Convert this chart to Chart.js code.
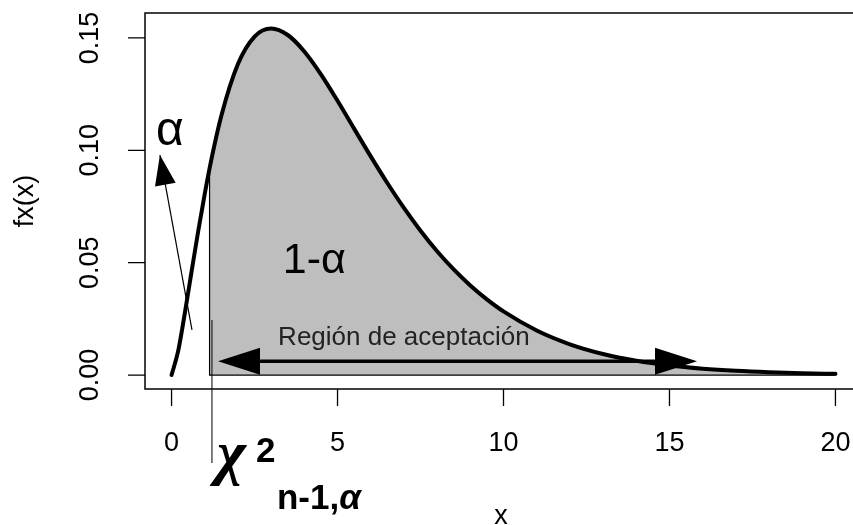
<!DOCTYPE html>
<html><head><meta charset="utf-8">
<script src="https://cdn.jsdelivr.net/npm/chart.js@4.4.1/dist/chart.umd.min.js"></script>
<style>html,body{margin:0;padding:0;overflow:hidden;background:#fff}</style>
</head><body>
<canvas id="c" width="880" height="525"></canvas>
<script>
// Density curve
const curveX = [0,0.2,0.4,0.6,0.8,1.0,1.2,1.5,2,2.5,3,3.5,4,4.5,5,5.5,6,6.5,7,7.5,8,8.5,9,9.5,10,11,12,13,14,15,16,17,18,19,20];
const curveY = [0,0.01076,0.02754,0.04579,0.06378,0.08066,0.09594,0.11540,0.13837,0.15060,0.15418,0.15131,0.14398,0.13380,0.12204,0.10965,0.09730,0.08545,0.07437,0.06424,0.05511,0.04701,0.03989,0.03369,0.02833,0.01983,0.01370,0.00937,0.00635,0.00427,0.00286,0.00190,0.00125,0.00082,0.00054];
// Critical value (left edge of the shaded region)
const criticalX = 1.145;
const criticalY = 0.0919;
// Axis ticks
const xTicks = [0,5,10,15,20];
const xTickLabels = ['0','5','10','15','20'];
const yTicks = [0,0.05,0.10,0.15];
const yTickLabels = ['0.00','0.05','0.10','0.15'];
const xTitle = 'x';
const yTitle = 'fx(x)';
// Annotations (data units)
const alphaText = 'α';
const alphaArrowFrom = [0.615, 0.0201];
const alphaArrowTo = [-0.35, 0.0979];
const alphaTextPos = [-0.05, 0.1024];
const oneMinusAlphaText = '1-α';
const oneMinusAlphaPos = [4.3, 0.0454];
const regionText = 'Región de aceptación';
const regionTextPos = [3.21, 0.0134];
const regionArrowX = [1.40, 15.83];
const regionArrowY = 0.0062;
const markerX = 1.217;
const markerTopY = 0.0245;

const pts = curveX.map((x,i)=>({x, y:curveY[i]}));
const areaPts = [{x:criticalX,y:criticalY}].concat(pts.filter(p=>p.x>criticalX));
const edgePts = [{x:criticalX,y:criticalY},{x:criticalX,y:0},{x:20,y:0}];

const SANS = "'Liberation Sans', Arial, Helvetica, sans-serif";
const SERIF = "'Liberation Serif', 'Times New Roman', serif";

function arrowHead(ctx, x1,y1,x2,y2,len,hw){
  const a = Math.atan2(y2-y1,x2-x1);
  const bx = x2 - len*Math.cos(a), by = y2 - len*Math.sin(a);
  ctx.beginPath();
  ctx.moveTo(x2,y2);
  ctx.lineTo(bx + hw*Math.sin(a), by - hw*Math.cos(a));
  ctx.lineTo(bx - hw*Math.sin(a), by + hw*Math.cos(a));
  ctx.closePath();
  ctx.fill();
}

const deco = {
  id:'deco',
  afterDraw(chart){
    const {ctx, chartArea:ca, scales:{x:xs, y:ys}} = chart;
    const px = v=>xs.getPixelForValue(v), py = v=>ys.getPixelForValue(v);
    ctx.save();
    ctx.fillStyle='#000'; ctx.strokeStyle='#000';
    // box
    ctx.lineWidth=1.5;
    ctx.strokeRect(ca.left, ca.top, ca.right-ca.left, ca.bottom-ca.top);
    // ticks
    ctx.lineWidth=1.3;
    ctx.beginPath();
    xTicks.forEach(v=>{ctx.moveTo(px(v),ca.bottom);ctx.lineTo(px(v),ca.bottom+17);});
    yTicks.forEach(v=>{ctx.moveTo(ca.left,py(v));ctx.lineTo(ca.left-17,py(v));});
    ctx.stroke();
    // tick labels
    ctx.font = "27px "+SANS;
    ctx.textAlign='center'; ctx.textBaseline='middle';
    xTicks.forEach((v,i)=>ctx.fillText(xTickLabels[i], px(v), ca.bottom+55));
    yTicks.forEach((v,i)=>{
      ctx.save(); ctx.translate(91, py(v)); ctx.rotate(-Math.PI/2);
      ctx.fillText(yTickLabels[i],0,0); ctx.restore();
    });
    // axis titles
    ctx.font = "27px "+SANS;
    ctx.save(); ctx.translate(26,(ca.top+ca.bottom)/2); ctx.rotate(-Math.PI/2);
    ctx.fillText(yTitle,0,0); ctx.restore();
    ctx.textBaseline='alphabetic';
    ctx.fillText(xTitle, 501, 524);

    // region double arrow
    const ax1 = px(regionArrowX[0]), ax2 = px(regionArrowX[1]), ay = py(regionArrowY);
    ctx.lineWidth=3.5;
    ctx.beginPath(); ctx.moveTo(ax1+30,ay); ctx.lineTo(ax2-30,ay); ctx.stroke();
    arrowHead(ctx, ax2, ay, ax1, ay, 42, 13.5);
    arrowHead(ctx, ax1, ay, ax2, ay, 42, 13.5);
    // region text
    ctx.fillStyle='#222';
    ctx.font = "26px "+SANS; ctx.textAlign='left'; ctx.textBaseline='alphabetic';
    ctx.fillText(regionText, px(regionTextPos[0]), py(regionTextPos[1]));
    ctx.fillStyle='#000';
    // 1-alpha
    ctx.font = "43px "+SANS; ctx.textAlign='center';
    ctx.fillText(oneMinusAlphaText, px(oneMinusAlphaPos[0]), py(oneMinusAlphaPos[1]));
    // alpha arrow
    const f1x=px(alphaArrowFrom[0]), f1y=py(alphaArrowFrom[1]), t1x=px(alphaArrowTo[0]), t1y=py(alphaArrowTo[1]);
    ctx.lineWidth=1.2;
    ctx.beginPath(); ctx.moveTo(f1x,f1y); ctx.lineTo(t1x,t1y); ctx.stroke();
    arrowHead(ctx, f1x,f1y,t1x,t1y, 30, 10.5);
    ctx.font = "48px "+SANS;
    ctx.fillText(alphaText, px(alphaTextPos[0]), py(alphaTextPos[1]));
    // marker line at critical value
    const mx = px(markerX);
    ctx.lineWidth=1;
    ctx.beginPath(); ctx.moveTo(mx, py(markerTopY)); ctx.lineTo(mx, ca.bottom+74); ctx.stroke();
    // chi-square label
    ctx.textAlign='left';
    ctx.font = "bold italic 62px "+SERIF;
    ctx.fillText('χ', mx+5, ca.bottom+84);
    ctx.font = "bold 35px "+SANS;
    ctx.fillText('2', mx+44, ca.bottom+73);
    ctx.fillText('n-1,', mx+65, ca.bottom+120);
    const w = ctx.measureText('n-1,').width;
    ctx.font = "bold italic 35px "+SANS;
    ctx.fillText('α', mx+65+w, ca.bottom+120);
    ctx.restore();
  }
};

new Chart(document.getElementById('c'), {
  type:'line',
  data:{datasets:[
    {data:areaPts, fill:'origin', backgroundColor:'#bebebe', borderWidth:0, pointRadius:0, cubicInterpolationMode:'monotone', order:3},
    {data:edgePts, fill:false, borderColor:'#000', borderWidth:1.2, pointRadius:0, tension:0, order:2},
    {data:pts, fill:false, borderColor:'#000', borderWidth:4, pointRadius:0, cubicInterpolationMode:'monotone', borderCapStyle:'round', borderJoinStyle:'round', order:1}
  ]},
  options:{
    responsive:false, animation:false, devicePixelRatio:1,
    layout:{padding:{top:13,right:18,left:0,bottom:0}},
    plugins:{legend:{display:false}, tooltip:{enabled:false}},
    scales:{
      x:{type:'linear', min:-0.8, max:20.8, grid:{display:false}, border:{display:false}, ticks:{display:false},
         afterFit(s){s.height=136;}},
      y:{type:'linear', min:-0.0062, max:0.1611, grid:{display:false}, border:{display:false}, ticks:{display:false},
         afterFit(s){s.width=145;}}
    }
  },
  plugins:[deco]
});
</script>
</body></html>
